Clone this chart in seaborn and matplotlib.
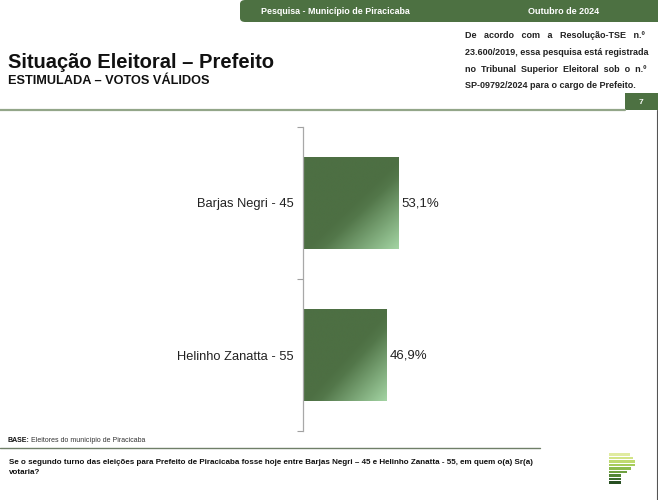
import numpy as np
import pandas as pd
import matplotlib.pyplot as plt
import seaborn as sns
from matplotlib.patches import FancyBboxPatch, Rectangle
from matplotlib.colors import LinearSegmentedColormap

# Data
candidates = ["Barjas Negri - 45", "Helinho Zanatta - 55"]
votes = [53.1, 46.9]
value_labels = ["53,1%", "46,9%"]

df = pd.DataFrame({"candidato": candidates, "votos": votes})

sns.set_style("white")
plt.rcParams["font.family"] = ["Liberation Sans", "DejaVu Sans"]

W, H = 658, 500
fig = plt.figure(figsize=(W / 100, H / 100), dpi=100)
fig.patch.set_facecolor("white")


def fx(px):
    return px / W


def fy(py):
    return 1 - py / H


# ==========================
# Header
# ==========================
banner = FancyBboxPatch((fx(240), fy(22)), fx(425), 22 / H,
                        boxstyle="round,pad=0,rounding_size=0.008",
                        transform=fig.transFigure, facecolor="#4d7142",
                        edgecolor="none")
fig.patches.append(banner)
fig.text(fx(261), fy(11), "Pesquisa - Município de Piracicaba", color="white",
         fontsize=6.4, fontweight="bold", va="center", ha="left")
fig.text(fx(564), fy(11), "Outubro de 2024", color="white",
         fontsize=6.5, fontweight="bold", va="center", ha="center")

info_lines = ["De   acordo   com   a   Resolução-TSE   n.º",
              "23.600/2019, essa pesquisa está registrada",
              "no  Tribunal  Superior  Eleitoral  sob  o  n.º",
              "SP-09792/2024 para o cargo de Prefeito."]
for i, line in enumerate(info_lines):
    fig.text(fx(465), fy(36 + i * 16.5), line, fontsize=6.45,
             fontweight="bold", color="#222222", va="center", ha="left")

fig.patches.append(Rectangle((fx(625), fy(110)), fx(33), 17 / H,
                             transform=fig.transFigure, facecolor="#4d7142",
                             edgecolor="none"))
fig.text(fx(641), fy(102), "7", color="white", fontsize=6,
         fontweight="bold", va="center", ha="center")

fig.add_artist(plt.Line2D([0, fx(625)], [fy(110), fy(110)],
                          transform=fig.transFigure, color="#93a689", lw=1.6))

fig.text(fx(8), fy(62), "Situação Eleitoral – Prefeito", fontsize=14.5,
         fontweight="bold", color="#111111", va="center", ha="left")
fig.text(fx(8), fy(81), "ESTIMULADA – VOTOS VÁLIDOS", fontsize=9.2,
         fontweight="bold", color="#111111", va="center", ha="left")

# ==========================
# Bar chart
# ==========================
ax = fig.add_axes([fx(303), fy(431), fx(179), (431 - 127) / H])
sns.barplot(data=df, x="votos", y="candidato", orient="h", width=0.6,
            color="#4d6f43", ax=ax)

# gradient fill on bars (dark, lighter toward bottom-right corner)
grad = LinearSegmentedColormap.from_list(
    "g", [(0, "#4d6f43"), (0.52, "#4d6f43"), (0.6, "#53774a"), (1, "#a3d4a3")])
gx, gy = np.meshgrid(np.linspace(0, 1, 200), np.linspace(0, 1, 200))
tgrad = (gx + gy) / 2
for bar in ax.patches:
    x0, y0 = bar.get_x(), bar.get_y()
    w, h = bar.get_width(), bar.get_height()
    im = ax.imshow(tgrad, cmap=grad, extent=[x0, x0 + w, y0 + h, y0],
                   origin="upper", aspect="auto", zorder=bar.get_zorder() + 0.1,
                   vmin=0, vmax=1)
    im.set_clip_path(bar)

for i, (v, lab) in enumerate(zip(votes, value_labels)):
    ax.text(v + 1.6, i, lab, va="center", ha="left", fontsize=9.5,
            color="#222222")

ax.set_xlim(0, 100)
ax.set_ylim(1.5, -0.5)
ax.set_xlabel("")
ax.set_ylabel("")
ax.set_xticks([])
ax.set_yticks([0, 1])
ax.set_yticklabels(candidates, fontsize=9.3, color="#222222")
ax.set_yticks([-0.5, 0.5, 1.5], minor=True)
ax.tick_params(axis="y", which="major", length=0, pad=7)
ax.tick_params(axis="y", which="minor", length=4, width=0.8, color="#a0a0a0",
               direction="out", left=True)
for side in ["top", "right", "bottom"]:
    ax.spines[side].set_visible(False)
ax.spines["left"].set_color("#a8a8a8")
ax.spines["left"].set_linewidth(0.9)
ax.set_facecolor("none")

# ==========================
# Footer
# ==========================
fig.text(fx(8), fy(440), "BASE:", fontsize=5, fontweight="bold",
         color="#111111", va="center", ha="left")
fig.text(fx(31), fy(440), "Eleitores do município de Piracicaba", fontsize=5,
         color="#333333", va="center", ha="left")
fig.add_artist(plt.Line2D([0, fx(540)], [fy(448), fy(448)],
                          transform=fig.transFigure, color="#6f7f68", lw=1.0))
fig.text(fx(9), fy(462),
         "Se o segundo turno das eleições para Prefeito de Piracicaba fosse hoje entre Barjas Negri – 45 e Helinho Zanatta - 55, em quem o(a) Sr(a)",
         fontsize=5.75, fontweight="bold", color="#111111", va="center", ha="left")
fig.text(fx(9), fy(473), "votaria?", fontsize=5.75, fontweight="bold",
         color="#111111", va="center", ha="left")

# logo
logo_widths = [21, 24, 26, 26, 22, 18, 12, 12, 12]
logo_colors = ["#e0eba0", "#d2e486", "#bfda6e", "#a6cc5a", "#8cbb4c",
               "#6ea040", "#528536", "#3b6a2d", "#284f22"]
for i, (lw_, c) in enumerate(zip(logo_widths, logo_colors)):
    fig.patches.append(Rectangle((fx(609), fy(453 + i * 3.5 + 2.7)), fx(lw_),
                                 2.7 / H, transform=fig.transFigure,
                                 facecolor=c, edgecolor="none"))

fig.add_artist(plt.Line2D([fx(656.5), fx(656.5)], [0, fy(110)],
                          transform=fig.transFigure, color="#555555", lw=0.8))

plt.savefig("out.png", dpi=100)
